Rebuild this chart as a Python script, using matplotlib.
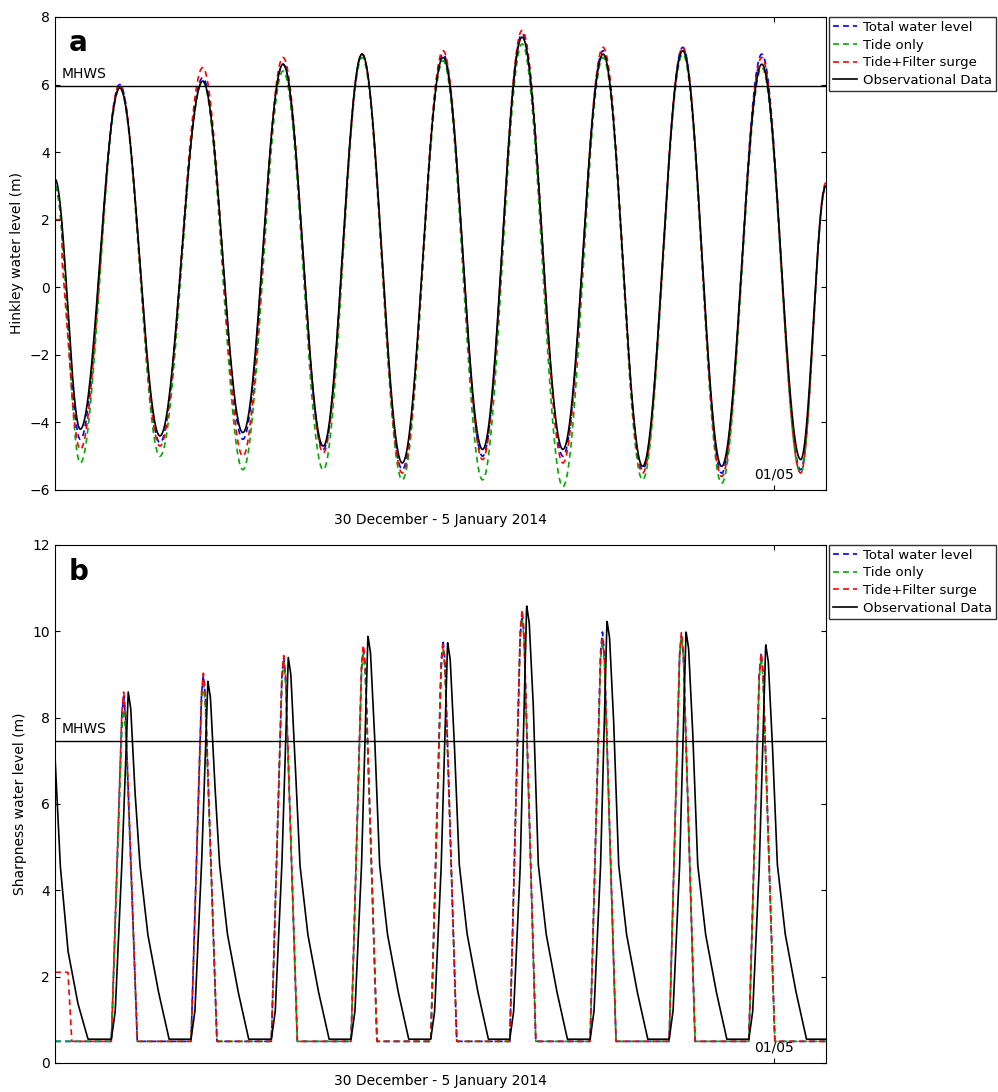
import numpy as np
import matplotlib
matplotlib.use('Agg')
import matplotlib.pyplot as plt

# ---- panel a: Hinkley, extremes (hours from start, level m)
a_times = [0, 3.9, 10.0, 16.2, 22.8, 29.0, 35.2, 41.4, 47.4, 53.6, 59.9,
           66.0, 72.1, 78.4, 84.6, 90.7, 96.9, 102.9, 109.1, 115.1, 119.0]
a_obs = [3.2, -4.2, 5.9, -4.4, 6.1, -4.3, 6.6, -4.7, 6.9, -5.2, 6.8,
         -4.8, 7.4, -4.8, 6.9, -5.3, 7.0, -5.3, 6.6, -5.1, 3.0]
a_total = [3.0, -4.5, 6.0, -4.6, 6.2, -4.5, 6.6, -4.8, 6.9, -5.4, 6.9,
           -5.0, 7.5, -5.0, 7.0, -5.4, 7.1, -5.5, 6.9, -5.4, 3.0]
a_tide = [3.0, -5.2, 5.9, -5.0, 6.1, -5.4, 6.4, -5.4, 6.8, -5.7, 6.7,
          -5.7, 7.2, -5.9, 6.8, -5.7, 6.9, -5.8, 6.5, -5.5, 3.0]
a_filter = [2.0, -4.8, 6.0, -4.7, 6.5, -5.0, 6.8, -4.9, 6.9, -5.5, 7.0,
            -5.1, 7.6, -5.2, 7.1, -5.5, 7.1, -5.6, 6.8, -5.5, 3.1]

# ---- panel b: Sharpness
b_obs_peak_t = [11.3, 23.6, 36.0, 48.3, 60.6, 72.8, 85.2, 97.4, 109.7]
b_obs_peak = [8.6, 8.85, 9.4, 9.9, 9.75, 10.6, 10.25, 10.0, 9.7]
b_mod_peak_t = [10.6, 22.9, 35.3, 47.6, 59.9, 72.1, 84.5, 96.7, 109.0]
b_total_peak = [8.5, 9.0, 9.4, 9.6, 9.8, 10.4, 10.0, 9.9, 9.5]
b_tide_peak = [8.2, 8.8, 9.3, 9.5, 9.6, 10.3, 9.8, 9.9, 9.4]
b_filter_peak = [8.6, 9.05, 9.45, 9.7, 9.7, 10.5, 9.9, 10.0, 9.5]
b_obs_start = 7.1
b_filter_start = 2.1

tick_pos = [111.0]
tick_lab = ['01/05']
xlabel = '30 December - 5 January 2014'
legend_labels = ['Total water level', 'Tide only', 'Tide+Filter surge', 'Observational Data']

t = np.linspace(0, 119, 4000)


def cos_curve(kt, kv, t):
    kt = np.asarray(kt); kv = np.asarray(kv)
    i = np.clip(np.searchsorted(kt, t) - 1, 0, len(kt) - 2)
    s = (t - kt[i]) / (kt[i + 1] - kt[i])
    w = 0.5 - 0.5 * np.cos(np.pi * s)
    return kv[i] + (kv[i + 1] - kv[i]) * w


def obs_b(t):
    kt, kv = [0, 0.8, 2.0, 3.5, 5.1], [b_obs_start, 4.6, 2.6, 1.4, 0.55]
    for tp, vp in zip(b_obs_peak_t, b_obs_peak):
        kt += [tp - 2.6, tp - 2.0, tp - 1.0, tp, tp + 0.4, tp + 1.0,
               tp + 1.8, tp + 3.0, tp + 4.6, tp + 6.3]
        kv += [0.55, 1.2, 4.5, vp, vp - 0.4, vp - 2.2,
               4.6, 3.0, 1.7, 0.55]
    kt += [119]; kv += [0.55]
    return np.interp(t, kt, kv)


def model_b(t, peaks, start=0.5, start_end=0.0):
    kt, kv = [0], [start]
    if start_end:
        kt += [start_end, start_end + 0.6]; kv += [start, 0.5]
    for tp, vp in zip(b_mod_peak_t, peaks):
        kt += [tp - 1.9, tp - 0.3, tp, tp + 0.3, tp + 2.1]
        kv += [0.5, vp - 0.5, vp, vp - 0.5, 0.5]
    kt += [119]; kv += [0.5]
    return np.interp(t, kt, kv)


fig = plt.figure(figsize=(9.98, 10.92), dpi=100)
ax_a = fig.add_axes([0.0551, 0.5513, 0.7725, 0.4332])
ax_b = fig.add_axes([0.0551, 0.0266, 0.7725, 0.4744])

dash = (0, (3.5, 2.5))
ax_a.plot(t, cos_curve(a_times, a_total, t), color='#0000ff', ls=dash, lw=1.2)
ax_a.plot(t, cos_curve(a_times, a_tide, t), color='#00aa00', ls=dash, lw=1.2)
fa = cos_curve(a_times, a_filter, t)
fa[t < 1.1] = 2.0
ax_a.plot(t, fa, color='#ff0000', ls=dash, lw=1.2)
ax_a.plot(t, cos_curve(a_times, a_obs, t), color='black', lw=1.2)
ax_a.axhline(5.95, color='black', lw=1)
ax_a.text(1.0, 6.2, 'MHWS', fontsize=10)
ax_a.set_ylim(-6, 8)
ax_a.set_yticks(range(-6, 9, 2))
ax_a.set_ylabel('Hinkley water level (m)', fontsize=10)
ax_a.xaxis.set_label_coords(0.5, -0.064)
ax_a.text(0.018, 0.975, 'a', transform=ax_a.transAxes, fontsize=20, fontweight='bold', va='top')

ax_b.plot(t, model_b(t, b_total_peak), color='#0000ff', ls=dash, lw=1.2)
ax_b.plot(t, model_b(t, b_tide_peak), color='#00aa00', ls=dash, lw=1.2)
ax_b.plot(t, model_b(t, b_filter_peak, b_filter_start, 2.0), color='#ff0000', ls=dash, lw=1.2)
ax_b.plot(t, obs_b(t), color='black', lw=1.2)
ax_b.axhline(7.45, color='black', lw=1)
ax_b.text(1.0, 7.65, 'MHWS', fontsize=10)
ax_b.set_ylim(0, 12)
ax_b.set_yticks(range(0, 13, 2))
ax_b.set_ylabel('Sharpness water level (m)', fontsize=10)
ax_b.xaxis.set_label_coords(0.5, -0.035)
ax_b.text(0.018, 0.975, 'b', transform=ax_b.transAxes, fontsize=20, fontweight='bold', va='top')

for ax in (ax_a, ax_b):
    ax.set_xlim(0, 119)
    ax.set_xticks(tick_pos)
    ax.set_xticklabels(tick_lab)
    ax.set_xlabel(xlabel, fontsize=10, va='center')
    ax.tick_params(direction='in', top=True, right=True, labelsize=10)
    ax.tick_params(axis='x', pad=-16)
    ax.legend(legend_labels, loc='upper left', bbox_to_anchor=(1.004, 1.0),
              fontsize=9.5, frameon=True, fancybox=False, edgecolor='black',
              borderpad=0.3, labelspacing=0.35, handlelength=1.8, handletextpad=0.5,
              borderaxespad=0.0)

plt.savefig('out.png')
